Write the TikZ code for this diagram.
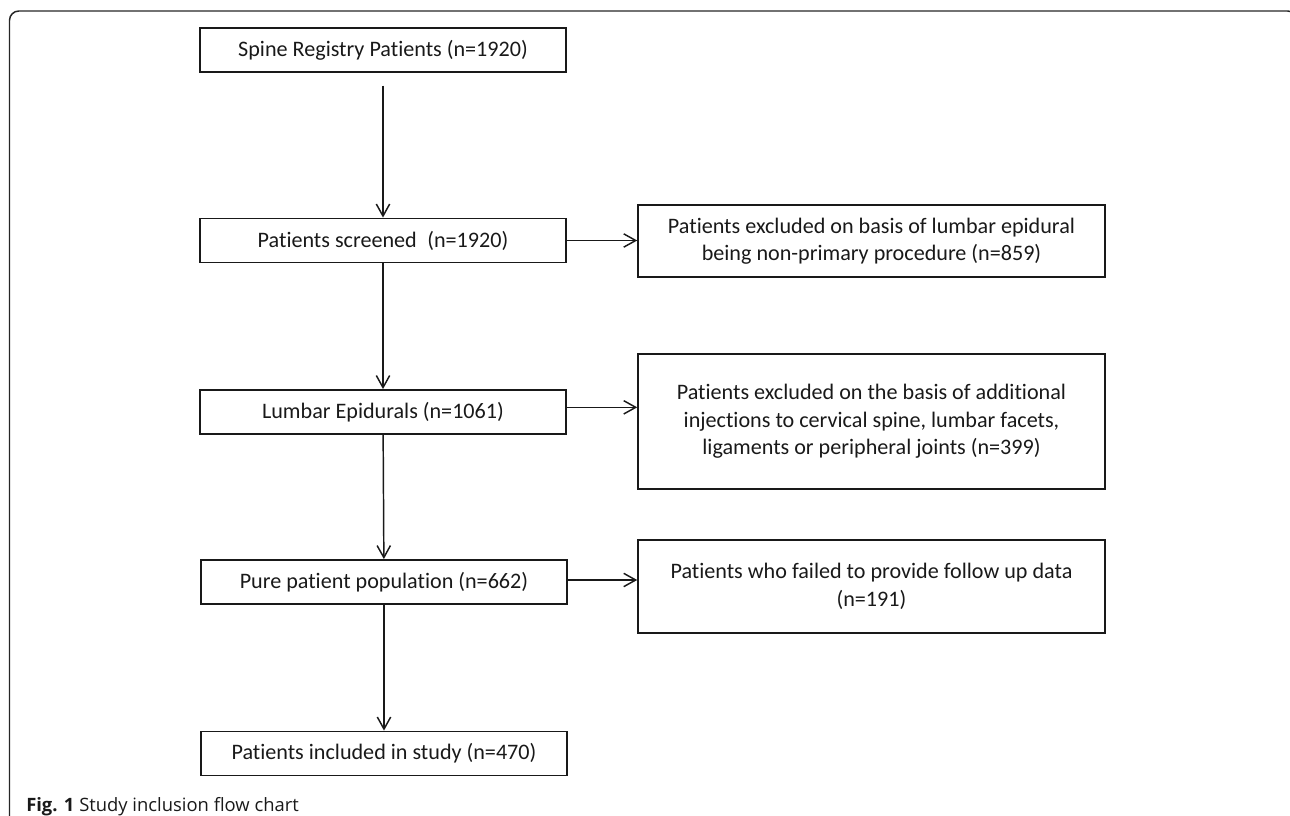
\documentclass[tikz,border=0pt]{standalone}
\usepackage{fontspec}
\setmainfont{Carlito}[Ligatures=NoCommon]
\newfontfamily\capfont{Open Sans}
\usepackage{tikz}
\usetikzlibrary{arrows.meta}
\tikzset{>={Straight Barb[length=9pt,width=10pt]}}
\tikzset{flowbox/.style={draw=black!90, line width=1.4pt, minimum width=275pt, minimum height=33pt,
    inner sep=0pt, align=center, text=black!90, font=\fontsize{16.6}{20.6}\selectfont},
  exbox/.style={flowbox, minimum width=350pt},
  flowarr/.style={->, line width=1.1pt, black!90}}

\begin{document}
\begin{tikzpicture}[x=0.75pt, y=-0.75pt]
    \useasboundingbox (0,0) rectangle (1290,816);
    % page frame
    \draw[line width=1.1pt, black!85, rounded corners=7pt] (9.5,830) -- (9.5,11) -- (1297,11) -- (1297,40);
    \node[flowbox] (reg) at (383,50) {Spine Registry Patients (n=1920)};
    \node[flowbox] (scr) at (383,240.5) {Patients screened\hspace{0.25em} (n=1920)};
    \node[flowbox] (lum) at (383,412) {Lumbar Epidurals (n=1061)};
    \node[flowbox] (pure) at (384,582) {Pure patient population (n=662)};
    \node[flowbox] (incl) at (384,753.5) {Patients included in study (n=470)};
    \node[exbox, minimum height=54pt] (exA) at (871.5,241) {Patients excluded on basis of lumbar epidural\\ being non-primary procedure (n=859)};
    \node[exbox, minimum height=101.25pt] (exB) at (871.5,421.5) {Patients excluded on the basis of additional\\ injections to cervical spine, lumbar facets,\\ ligaments or peripheral joints (n=399)};
    \node[exbox, minimum height=70pt] (exC) at (871.5,586.5) {Patients who failed to provide follow up data\\ (n=191)};
    \draw[flowarr, shorten <=9.5pt] (reg) -- (scr);
    \draw[flowarr] (scr) -- (lum);
    \draw[flowarr] (lum) -- (pure);
    \draw[flowarr] (pure) -- (incl);
    \draw[flowarr] (scr.east) -- (scr.east -| exA.west);
    \draw[flowarr] ([yshift=3.5pt]lum.east) -- ([yshift=3.5pt]lum.east -| exB.west);
    \draw[flowarr] ([yshift=1.5pt]pure.east) -- ([yshift=1.5pt]pure.east -| exC.west);
    \node[anchor=base west, inner sep=0pt, text=black!90, font=\capfont\fontsize{13.8}{16}\selectfont] (cap) at (26,811)
      {\textbf{Fig. 1} Study inclusion flow chart};
\end{tikzpicture}
\end{document}
